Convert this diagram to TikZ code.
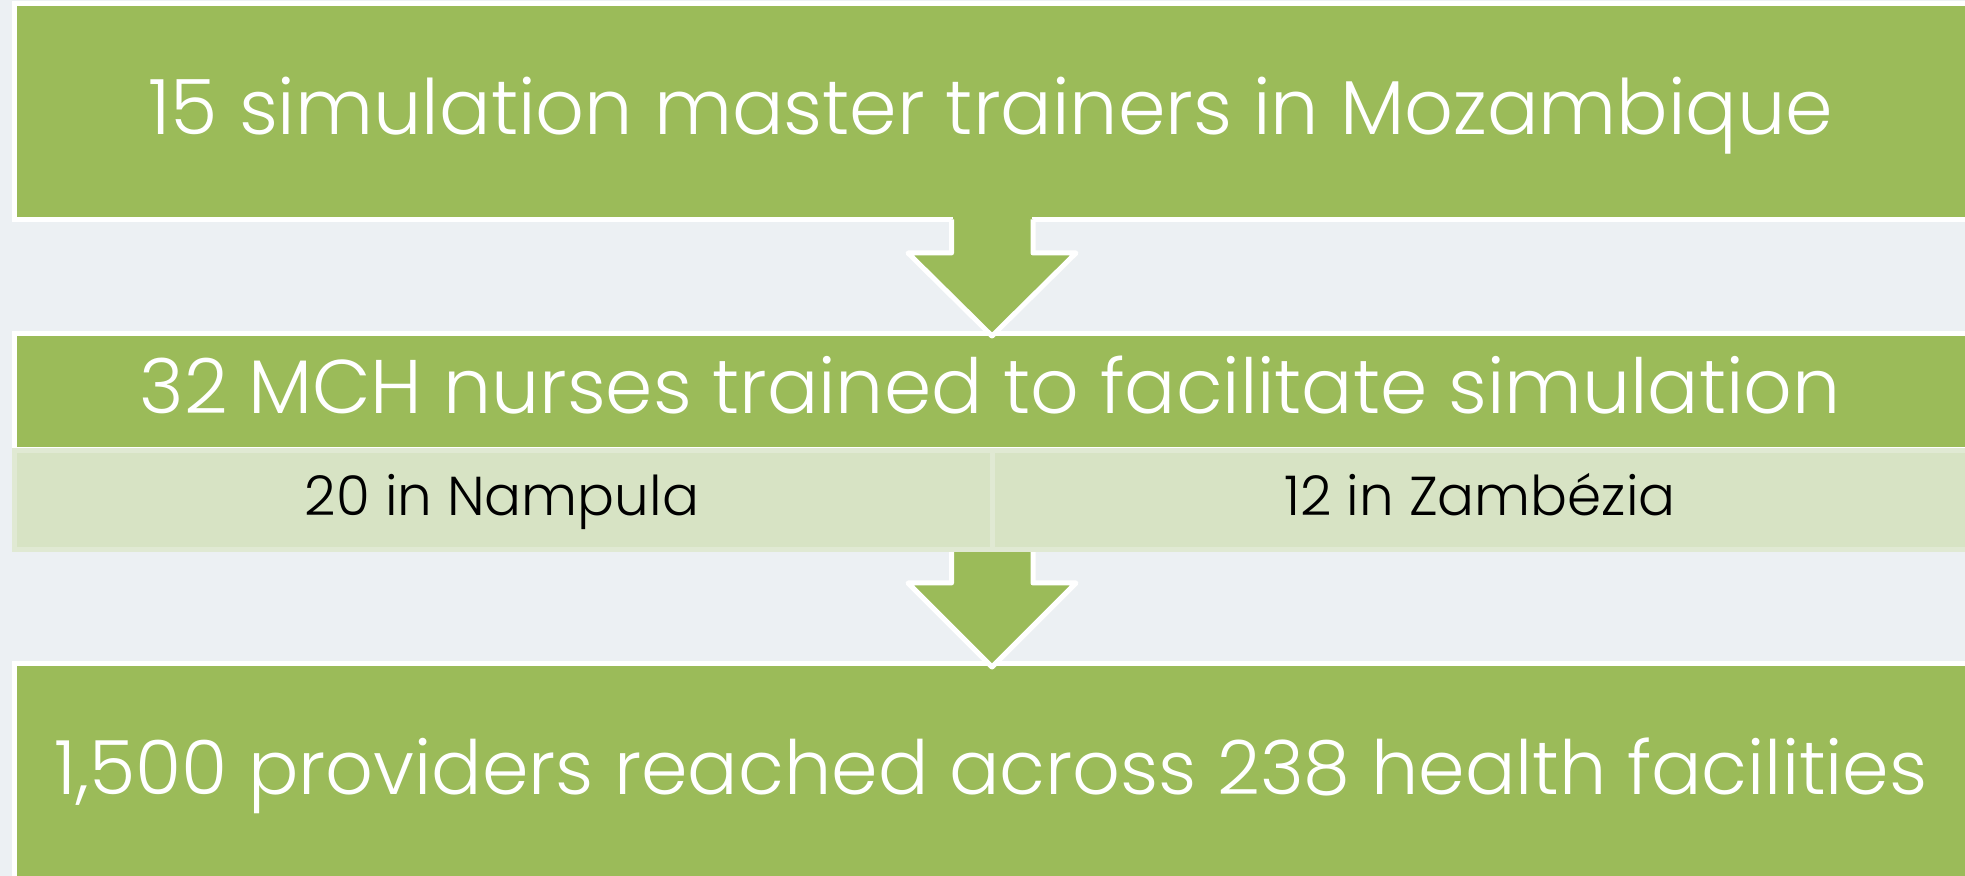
\documentclass[tikz,border=0pt]{standalone}
\usepackage{fontspec}
\IfFontExistsTF{Poppins Light}{\setmainfont{Poppins Light}}{\setmainfont{Poppins}}
\definecolor{bg}{HTML}{ECF0F3}
\definecolor{leaf}{HTML}{9BBB59}
\definecolor{pale}{HTML}{D7E3C4}
\definecolor{paleedge}{HTML}{E0E9D3}
\tikzset{
  greenbox/.style={draw=white, fill=leaf, line width=2.5pt, inner sep=0pt, outer sep=0pt},
  palecell/.style={draw=paleedge, fill=pale, line width=2.5pt, inner sep=0pt, outer sep=0pt},
  blockarrow/.style={draw=white, fill=leaf, line width=2.5pt, line join=round},
  bigtext/.style={text=white, anchor=base, inner sep=0pt, font=\fontsize{38.2}{46}\selectfont},
  midtext/.style={text=white, anchor=base, inner sep=0pt, font=\fontsize{38}{44}\selectfont},
  lowtext/.style={text=white, anchor=base, inner sep=0pt, font=\fontsize{37.4}{44}\selectfont},
  smalltext/.style={text=black, anchor=base, inner sep=0pt, font=\fontsize{27.4}{32}\selectfont}
}
\begin{document}
\begin{tikzpicture}[x=0.5pt,y=-0.5pt]
\fill[bg] (0,0) rectangle (1965,876);
\useasboundingbox (0,0) rectangle (1965,876);
% boxes
\node[greenbox, minimum width=980.25pt, minimum height=108pt] (b1) at (994.75,111.5) {};
\node[greenbox, minimum width=980.25pt, minimum height=58pt] (b2) at (994.75,392) {};
\node[greenbox, minimum width=980.25pt, minimum height=118.25pt] (b3) at (994.75,781.75) {};
% arrow 1
\fill[leaf] (953,212) rectangle (1031.5,224);
\path[blockarrow] (951.5,219.5) -- (951.5,253) -- (908,253) -- (992,336) -- (1076,253) -- (1033,253) -- (1033,219.5);
% arrow 2
\path[blockarrow] (951.5,549.5) -- (951.5,583) -- (908,583) -- (992,667) -- (1076,583) -- (1033,583) -- (1033,549.5);
% pale cells
\node[palecell, minimum width=488.75pt, minimum height=49.5pt] (c1) at (503.25,500) {};
\node[palecell, minimum width=491.5pt, minimum height=49.5pt] (c2) at (1483.5,500) {};
% texts
\node[bigtext] (t1) at (991,135) {15 simulation master trainers in Mozambique};
\node[midtext] (t2) at (990,414) {32 MCH nurses trained to facilitate simulation};
\node[smalltext] (t3) at (502,516) {20 in Nampula};
\node[smalltext] (t4) at (1480,516) {12 in Zambézia};
\node[lowtext] (t5) at (991,794) {1,500 providers reached across 238 health facilities};
\end{tikzpicture}
\end{document}
